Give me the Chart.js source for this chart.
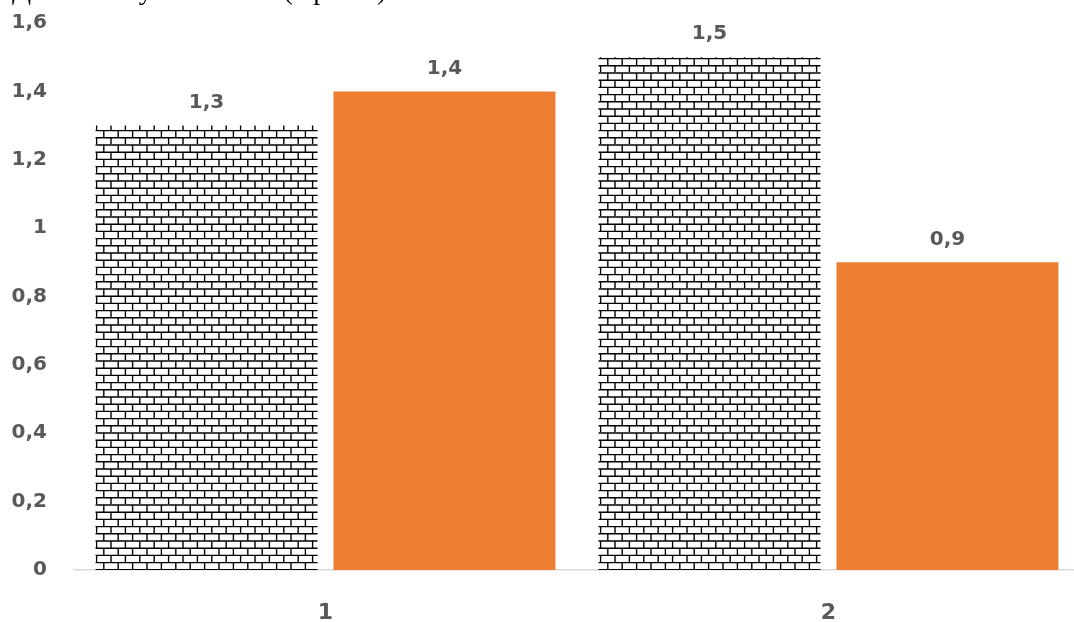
<!DOCTYPE html>
<html>
<head>
<meta charset="utf-8">
<script src="https://cdn.jsdelivr.net/npm/chart.js@4/dist/chart.umd.min.js"></script>
<style>
  html, body { margin: 0; padding: 0; background: #ffffff; overflow: hidden; }
  #wrap { width: 1082px; height: 622px; }
</style>
</head>
<body>
<div id="wrap"><canvas id="chart" width="1082" height="622"></canvas></div>
<script>
// Chart data
const categories = ['1', '2'];
const brickValues = [1.3, 1.5];
const orangeValues = [1.4, 0.9];
const yMin = 0;
const yMax = 1.6;
const yStep = 0.2;
const headingText = 'Динамика увеличения (в разах)';

const labelFont = 'bold 20px "DejaVu Sans"';
const labelColor = '#595959';

// Decimal comma formatting: 1.3 -> "1,3", 1 -> "1"
function fmt(v) {
  return String(+Number(v).toFixed(1)).replace('.', ',');
}

// Horizontal brick fill
function makeBrickPattern() {
  const c = document.createElement('canvas');
  const size = 72;          // 10 rows of 7.2px, 5 bricks of 14.4px
  const rowH = 7.2, brickW = 14.4;
  c.width = size; c.height = size;
  const g = c.getContext('2d');
  g.fillStyle = '#ffffff';
  g.fillRect(0, 0, size, size);
  g.strokeStyle = '#000000';
  g.lineWidth = 1.4;
  for (let r = 0; r < 10; r++) {
    const y = r * rowH + 1;
    g.beginPath();
    g.moveTo(0, y); g.lineTo(size, y);
    g.stroke();
    const off = (r % 2) ? brickW / 2 : 0;
    for (let k = -1; k <= 5; k++) {
      const x = k * brickW + off + 3;
      g.beginPath();
      g.moveTo(x, y); g.lineTo(x, y + rowH);
      g.stroke();
    }
  }
  return g.createPattern(c, 'repeat');
}

const ctx = document.getElementById('chart').getContext('2d');
const brick = makeBrickPattern();

// Value labels above each bar
const valueLabels = {
  id: 'valueLabels',
  afterDatasetsDraw(chart) {
    const c = chart.ctx;
    c.save();
    c.font = labelFont;
    c.fillStyle = labelColor;
    c.textAlign = 'center';
    c.textBaseline = 'middle';
    chart.data.datasets.forEach((ds, i) => {
      chart.getDatasetMeta(i).data.forEach((bar, j) => {
        c.fillText(fmt(ds.data[j]), bar.x, bar.y - 23);
      });
    });
    c.restore();
  }
};

// Heading line running off the top edge
const heading = {
  id: 'heading',
  afterDraw(chart) {
    const c = chart.ctx;
    c.save();
    c.font = '28px "Liberation Serif"';
    c.fillStyle = '#000000';
    c.textAlign = 'left';
    c.textBaseline = 'alphabetic';
    c.fillText(headingText, 12, -1);
    c.restore();
  }
};

new Chart(ctx, {
  type: 'bar',
  data: {
    labels: categories,
    datasets: [
      {
        data: brickValues,
        backgroundColor: brick,
        borderWidth: 0,
        categoryPercentage: 0.946,
        barPercentage: 0.933
      },
      {
        data: orangeValues,
        backgroundColor: '#ED7D31',
        borderWidth: 0,
        categoryPercentage: 0.946,
        barPercentage: 0.933
      }
    ]
  },
  options: {
    responsive: false,
    animation: false,
    layout: { padding: { top: 23, right: 2, left: 0, bottom: 0 } },
    plugins: {
      legend: { display: false },
      tooltip: { enabled: false },
      title: { display: false }
    },
    scales: {
      x: {
        grid: { display: false },
        border: { display: true, color: '#d9d9d9', width: 1.5 },
        ticks: {
          color: labelColor,
          font: { family: 'DejaVu Sans', weight: 'bold', size: 22 },
          padding: 22
        },
        afterFit(scale) { scale.height = 52; }
      },
      y: {
        min: yMin,
        max: yMax,
        grid: { display: false },
        border: { display: false },
        ticks: {
          stepSize: yStep,
          color: labelColor,
          font: { family: 'DejaVu Sans', weight: 'bold', size: 20 },
          padding: 19,
          callback: (v) => fmt(v)
        },
        afterFit(scale) {
          scale.width = 74;
          scale.paddingTop = 0;
          scale.paddingBottom = 0;
        }
      }
    }
  },
  plugins: [valueLabels, heading]
});
</script>
</body>
</html>
